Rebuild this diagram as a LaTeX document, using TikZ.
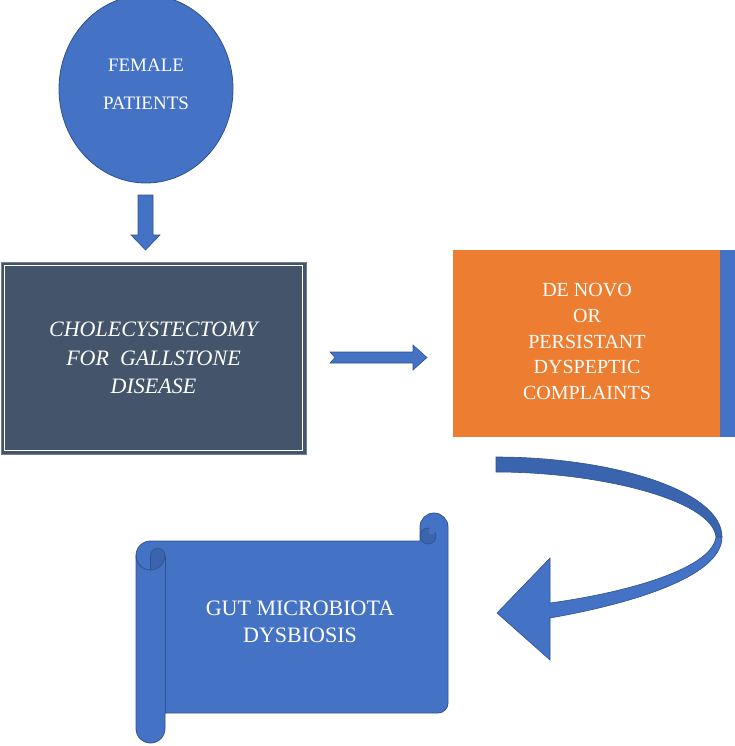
\documentclass[tikz,border=0pt]{standalone}
\usepackage{fontspec}
\setmainfont{Liberation Serif}
\usetikzlibrary{shapes.geometric,calc}
\definecolor{officeblue}{HTML}{4472C4}
\definecolor{officeedge}{HTML}{2F528F}
\definecolor{curlblue}{HTML}{3A64AE}
\definecolor{slate}{HTML}{44546A}
\definecolor{officeorange}{HTML}{ED7D31}

\begin{document}
\begin{tikzpicture}[x=1pt, y=-1pt,
  lbl/.style={text=white, align=center, inner sep=0pt},
  blockarr/.style={fill=officeblue, draw=officeedge, line width=0.6pt},
  scrollpart/.style={fill=curlblue, draw=officeedge, line width=0.6pt}
]
  \useasboundingbox (0,0) rectangle (735,746);

  % start: patients
  \node[ellipse, fill=officeblue, draw=officeedge, line width=0.8pt, inner sep=0pt,
        minimum width=174pt, minimum height=188pt] (patients) at (146,89) {};
  \node[lbl, font=\fontsize{19}{23}\selectfont] (patientstxt)
        at ($(patients.center)+(0,-5)$) {FEMALE\\[15pt]PATIENTS};

  % surgery box with white inner frame
  \node[fill=slate, draw=slate!75!white, line width=1pt, inner sep=0pt,
        minimum width=305pt, minimum height=192pt] (surgery) at (153.5,358) {};
  \draw[white, line width=1.4pt] ($(surgery.north west)+(4,4)$) rectangle ($(surgery.south east)+(-4,-4)$);
  \node[lbl, font=\fontsize{22}{28.5}\selectfont\itshape] (surgerytxt) at (surgery)
        {CHOLECYSTECTOMY\\FOR\ \ GALLSTONE\\DISEASE};

  % complaints box
  \node[fill=officeorange, inner sep=0pt, minimum width=267pt, minimum height=187pt] (complaints) at (586.5,343.5) {};
  \fill[officeblue] (complaints.north east) rectangle ++(15,187);
  \node[lbl, font=\fontsize{20}{25.75}\selectfont] (complaintstxt) at (587,341.5)
        {DE NOVO\\OR\\PERSISTANT\\DYSPEPTIC\\COMPLAINTS};

  % block arrows
  \filldraw[blockarr] (138,195) -- (153,195) -- (153,235) -- (160,235) -- (145.5,250)
        -- (131,235) -- (138,235) -- cycle;
  \filldraw[blockarr] (330,352) -- (413,352) -- (413,345) -- (427,357.5) -- (413,370)
        -- (413,363) -- (330,363) -- (335,357.5) -- cycle;

  % curved arrow
  \filldraw[scrollpart] (496,457) .. controls (610,457) and (722,490) .. (722,537)
        -- (716,537) .. controls (712,500) and (600,472) .. (496,472) -- cycle;
  \filldraw[blockarr] (722,537) .. controls (722,577) and (630,604) .. (550,618)
        -- (550,660) -- (497,613) -- (550,558) -- (550,603)
        .. controls (630,592) and (712,568) .. (716,537) -- cycle;

  % scroll
  \filldraw[fill=officeblue, draw=officeedge, line width=0.8pt]
    (136,555.5) .. controls (136,547.5) and (142.5,541) .. (150.5,541)
    -- (420,541) -- (420,527)
    .. controls (420,519.3) and (426.3,513) .. (434,513)
    .. controls (441.7,513) and (448,519.3) .. (448,527)
    -- (448,703)
    .. controls (448,708.5) and (443.5,713) .. (438,713)
    -- (165,713) -- (165,728.5)
    .. controls (165,736.5) and (158.5,743) .. (150.5,743)
    .. controls (142.5,743) and (136,736.5) .. (136,728.5)
    -- cycle;
  \filldraw[scrollpart] (150.5,555.5) .. controls (150.5,551.5) and (153.7,548.25) .. (157.75,548.25)
    .. controls (161.8,548.25) and (165,551.5) .. (165,555.5)
    .. controls (165,563.5) and (158.5,570) .. (150.5,570) -- cycle;
  \draw[officeedge, line width=0.8pt] (136,555.5) .. controls (136,563.5) and (142.5,570) .. (150.5,570);
  \draw[officeedge, line width=0.8pt] (165,555.5) -- (165,713);
  \filldraw[scrollpart] (428,536) circle[radius=8pt];
  \fill[officeblue] (432,531) circle[radius=3.5pt];
  \node[lbl, font=\fontsize{22}{27}\selectfont] (dysbiosis) at (300,621.5)
        {GUT MICROBIOTA\\DYSBIOSIS};
\end{tikzpicture}
\end{document}
